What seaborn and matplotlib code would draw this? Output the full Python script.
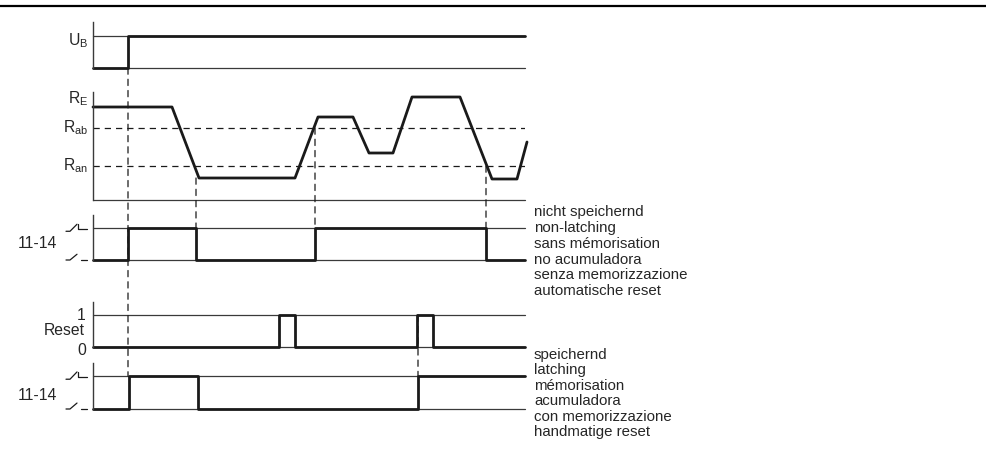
import numpy as np
import pandas as pd
import matplotlib
matplotlib.use('Agg')
import matplotlib.pyplot as plt
import seaborn as sns
from matplotlib.patches import ConnectionPatch
from matplotlib.lines import Line2D

## data (time in arbitrary units, 0 .. 432)
t_end = 432

ub_t = [0, 35, t_end]
ub_level = [0, 1, 1]

# resistance curve R_E
re_t = [0, 79, 106, 202, 225, 260, 276, 300, 319, 367, 399, 424, 434]
re_val = [9.3, 9.3, 2.2, 2.2, 8.3, 8.3, 4.7, 4.7, 10.3, 10.3, 2.1, 2.1, 5.8]
r_ab = 7.2
r_an = 3.4

# non-latching output 11-14
nl_t = [0, 35, 103, 222, 393, t_end]
nl_level = [0, 1, 0, 1, 0, 0]

# reset input
reset_t = [0, 186, 202, 324, 340, t_end]
reset_level = [0, 1, 0, 1, 0, 0]

# latching output 11-14
la_t = [0, 36, 105, 325, t_end]
la_level = [0, 1, 0, 1, 1]

text_nl = ["nicht speichernd", "non-latching", "sans mémorisation",
           "no acumuladora", "senza memorizzazione", "automatische reset"]
text_la = ["speichernd", "latching", "mémorisation",
           "acumuladora", "con memorizzazione", "handmatige reset"]

## style
sns.set_style('white')
plt.rcParams['font.family'] = ['Liberation Sans', 'DejaVu Sans']
plt.rcParams['mathtext.fontset'] = 'custom'
plt.rcParams['mathtext.rm'] = 'Liberation Sans'
SIG = '#1a1a1a'
THIN = '#3a3a3a'
LBL = 11.3
W, H = 986, 459

fig = plt.figure(figsize=(W / 100, H / 100), dpi=100)


def panel(top, bottom, ymax):
    ax = fig.add_axes([93 / W, 1 - bottom / H, 432 / W, (bottom - top) / H])
    ax.set_xlim(0, t_end)
    ax.set_ylim(0, ymax)
    for s in ['top', 'right', 'bottom']:
        ax.spines[s].set_visible(False)
    ax.spines['left'].set_color(THIN)
    ax.spines['left'].set_linewidth(1.0)
    ax.set_xticks([])
    ax.set_yticks([])
    ax.patch.set_alpha(0)
    return ax


def digital(ax, t, lv, refs=(0, 1)):
    for r in refs:
        ax.axhline(r, color=THIN, lw=0.9, clip_on=False)
    df = pd.DataFrame({'t': t, 'v': lv})
    sns.lineplot(data=df, x='t', y='v', ax=ax, drawstyle='steps-post',
                 color=SIG, lw=2.0, estimator=None, sort=False, clip_on=False)
    ax.set_xlabel('')
    ax.set_ylabel('')


def contacts(ax):
    kw = dict(color=SIG, lw=0.9, clip_on=False)
    ax.plot([-27, -23, -16], [0.90, 0.90, 1.12], **kw)
    ax.plot([-15, -15, -6], [1.12, 0.96, 0.96], **kw)
    ax.plot([-27, -23, -16], [0.0, 0.0, 0.18], **kw)
    ax.plot([-12, -6], [0.0, 0.0], **kw)


ax_ub = panel(22, 68, 1.44)
ax_re = panel(92, 200, 10.8)
ax_nl = panel(215, 260, 1.41)
ax_rs = panel(302, 347, 1.41)
ax_la = panel(363, 409, 1.39)

# U_B
digital(ax_ub, ub_t, ub_level)
ax_ub.text(-5, 0.86, r'U$_\mathrm{B}$', ha='right', va='center', fontsize=LBL)

# R_E
ax_re.axhline(0, color=THIN, lw=0.9, clip_on=False)
for r in (r_ab, r_an):
    ax_re.axhline(r, color=SIG, lw=0.9, ls=(0, (5, 4)))
sns.lineplot(x=re_t, y=re_val, ax=ax_re, color=SIG, lw=2.0,
             estimator=None, sort=False, clip_on=False)
ax_re.text(-5, 10.1, r'R$_\mathrm{E}$', ha='right', va='center', fontsize=LBL)
ax_re.text(-5, r_ab, r'R$_\mathrm{ab}$', ha='right', va='center', fontsize=LBL)
ax_re.text(-5, r_an, r'R$_\mathrm{an}$', ha='right', va='center', fontsize=LBL)

# non-latching
digital(ax_nl, nl_t, nl_level)
contacts(ax_nl)
ax_nl.text(-36, 0.53, '11-14', ha='right', va='center', fontsize=LBL)

# reset
digital(ax_rs, reset_t, reset_level)
ax_rs.text(-7, 1.0, '1', ha='right', va='center', fontsize=LBL)
ax_rs.text(-8, 0.53, 'Reset', ha='right', va='center', fontsize=LBL)
ax_rs.text(-7, -0.1, '0', ha='right', va='center', fontsize=LBL)

# latching
digital(ax_la, la_t, la_level)
contacts(ax_la)
ax_la.text(-36, 0.4, '11-14', ha='right', va='center', fontsize=LBL)

# dashed event connectors
links = [
    (ub_t[1], ax_ub, 0, ax_la, 1),
    (nl_t[2], ax_re, re_val[2], ax_nl, 1),
    (nl_t[3], ax_re, r_ab, ax_nl, 1),
    (nl_t[4], ax_re, r_an, ax_nl, 1),
    (la_t[3], ax_rs, 1, ax_la, 1),
]
for t, a1, y1, a2, y2 in links:
    cp = ConnectionPatch(xyA=(t, y1), coordsA=a1.transData,
                         xyB=(t, y2), coordsB=a2.transData,
                         color=SIG, lw=0.9, ls=(0, (5, 4)))
    fig.add_artist(cp)

# descriptions
fig.text(534 / W, 1 - 205 / H, '\n'.join(text_nl), ha='left', va='top',
         fontsize=10.8, linespacing=1.17)
fig.text(534 / W, 1 - 348 / H, '\n'.join(text_la), ha='left', va='top',
         fontsize=10.8, linespacing=1.13)

# top rule
fig.add_artist(Line2D([0, 1], [1 - 6 / H, 1 - 6 / H], color='black', lw=1.6))

fig.savefig('out.png', dpi=100)
